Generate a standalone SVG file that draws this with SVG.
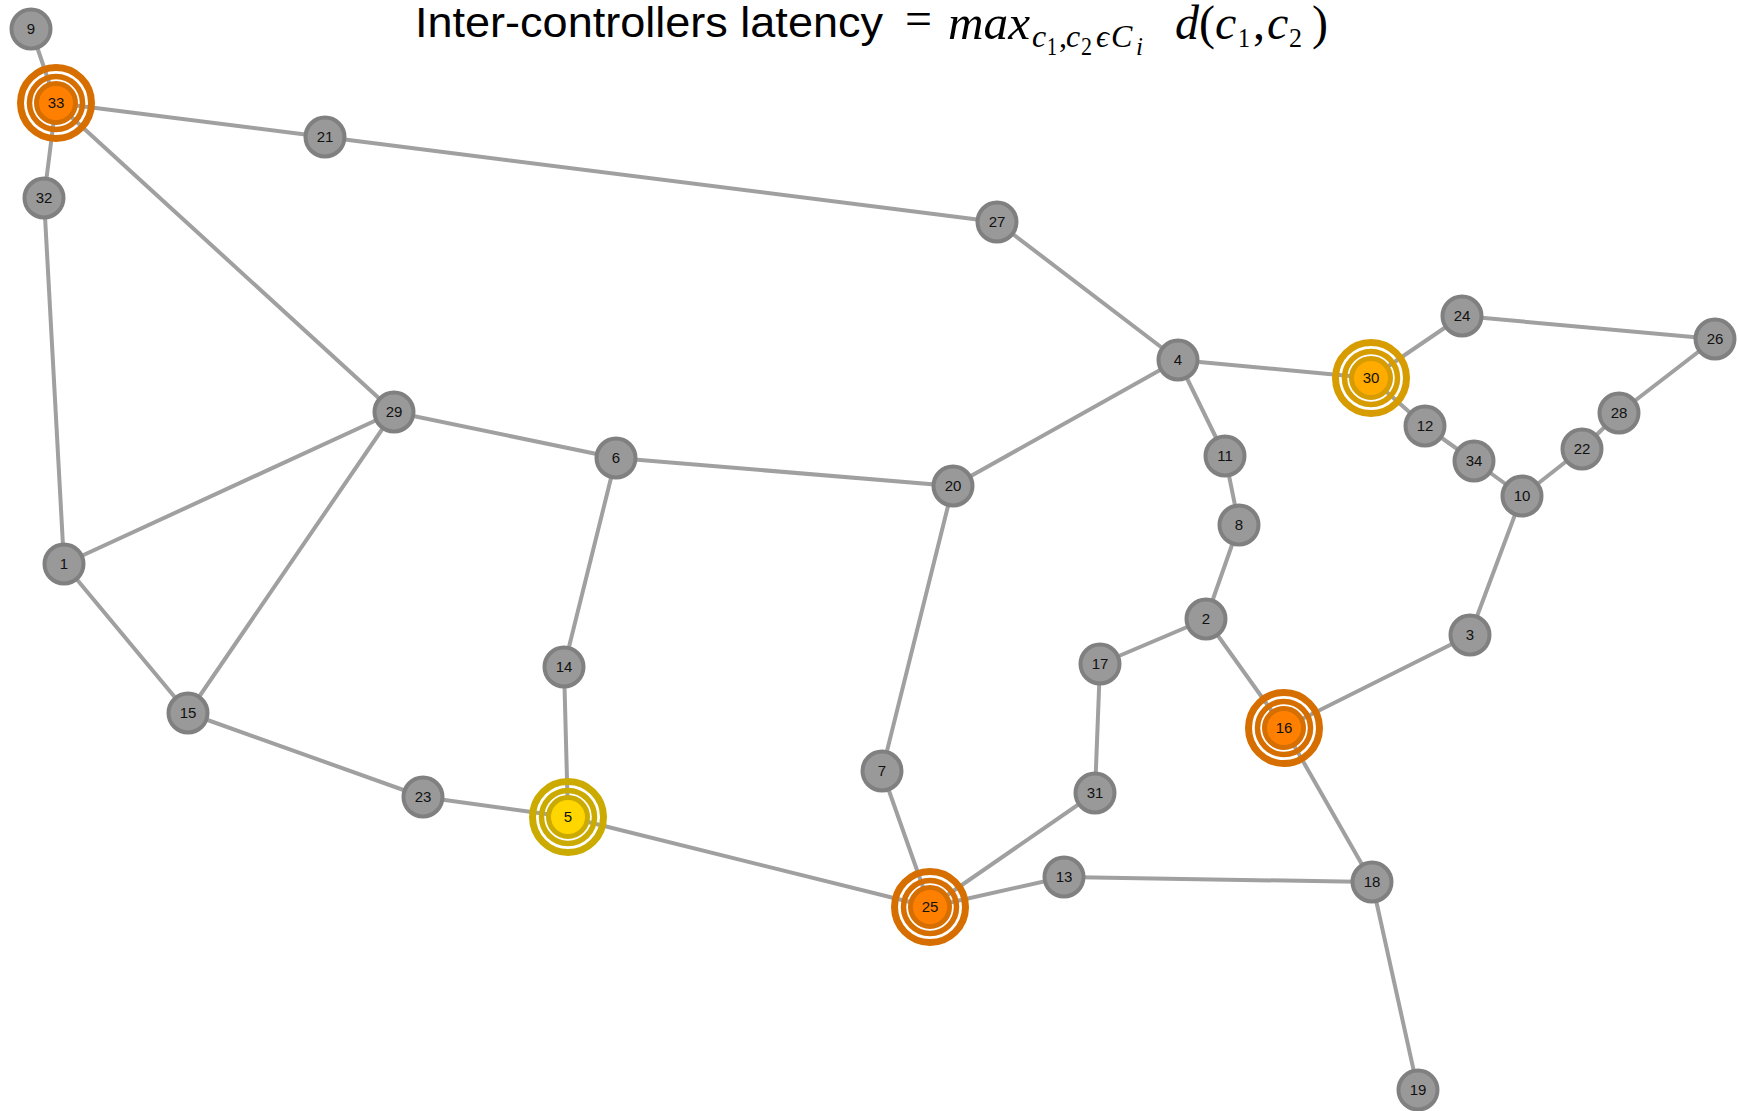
<svg xmlns="http://www.w3.org/2000/svg" width="1738" height="1111" viewBox="0 0 1738 1111">
  <style>
    .edge { stroke: #a0a0a0; stroke-width: 4; stroke-linecap: round; }
    .node circle.body { fill: #999999; stroke: #808080; stroke-width: 4; }
    .node text { font-family: "Liberation Sans", Arial, sans-serif; font-size: 15px; fill: #111; text-anchor: middle; }
    .ring { fill: none; }
    .orange .ring, .orange circle.body { stroke: #d66e00; }
    .orange circle.body { fill: #ff8000; stroke-width: 5; }
    .amber .ring, .amber circle.body { stroke: #d69c00; }
    .amber circle.body { fill: #ffab00; stroke-width: 5; }
    .gold .ring, .gold circle.body { stroke: #ccab00; }
    .gold circle.body { fill: #ffd600; stroke-width: 5; }
    .r1 { stroke-width: 7; }
    .r2 { stroke-width: 5.5; }
    .title { font-family: "Liberation Sans", Arial, sans-serif; font-size: 42px; fill: #000; }
    .m { font-family: "Liberation Serif", "DejaVu Serif", serif; font-style: italic; fill: #000; }
    .big { font-size: 48px; }
    .sub { font-size: 32px; }
    .sub2 { font-size: 25px; font-style: normal; }
    .sub2.it { font-style: italic; }
    .dsub { font-size: 28px; font-style: normal; }
    .up { font-style: normal; }
  </style>

  <!-- heading with the latency formula -->
  <g id="title">
    <text class="title" x="415" y="37" textLength="468" lengthAdjust="spacingAndGlyphs">Inter-controllers latency</text>
    <text class="m big up" x="905" y="35" textLength="27" lengthAdjust="spacingAndGlyphs">=</text>
    <text class="m big" x="948" y="39" textLength="82" lengthAdjust="spacingAndGlyphs">max</text>
    <text class="m sub" x="1032" y="47">c</text>
    <text class="m sub2" x="1047" y="55" textLength="10" lengthAdjust="spacingAndGlyphs">1</text>
    <text class="m sub up" x="1059" y="47">,</text>
    <text class="m sub" x="1066" y="47">c</text>
    <text class="m sub2" x="1081" y="55" textLength="11" lengthAdjust="spacingAndGlyphs">2</text>
    <text class="m sub" x="1096" y="47">ϵ</text>
    <text class="m sub" x="1111" y="47">C</text>
    <text class="m sub2 it" x="1136" y="55">i</text>
    <text class="m big" x="1175" y="39">d</text>
    <text class="m big up" x="1199" y="39">(</text>
    <text class="m big" x="1215" y="39">c</text>
    <text class="m dsub" x="1238" y="47" textLength="12" lengthAdjust="spacingAndGlyphs">1</text>
    <text class="m big up" x="1253" y="39">,</text>
    <text class="m big" x="1267" y="39">c</text>
    <text class="m dsub" x="1289" y="47" textLength="13" lengthAdjust="spacingAndGlyphs">2</text>
    <text class="m big up" x="1312" y="39">)</text>
  </g>

  <!-- links -->
  <g id="connectors">
    <line class="edge" x1="31" y1="29" x2="56" y2="103"/>
    <line class="edge" x1="56" y1="103" x2="325" y2="137"/>
    <line class="edge" x1="56" y1="103" x2="44" y2="198"/>
    <line class="edge" x1="56" y1="103" x2="394" y2="412"/>
    <line class="edge" x1="325" y1="137" x2="997" y2="222"/>
    <line class="edge" x1="997" y1="222" x2="1178" y2="360"/>
    <line class="edge" x1="44" y1="198" x2="64" y2="564"/>
    <line class="edge" x1="64" y1="564" x2="394" y2="412"/>
    <line class="edge" x1="64" y1="564" x2="188" y2="713"/>
    <line class="edge" x1="394" y1="412" x2="188" y2="713"/>
    <line class="edge" x1="394" y1="412" x2="616" y2="458"/>
    <line class="edge" x1="616" y1="458" x2="953" y2="486"/>
    <line class="edge" x1="616" y1="458" x2="564" y2="667"/>
    <line class="edge" x1="564" y1="667" x2="568" y2="817"/>
    <line class="edge" x1="188" y1="713" x2="423" y2="797"/>
    <line class="edge" x1="423" y1="797" x2="568" y2="817"/>
    <line class="edge" x1="568" y1="817" x2="930" y2="907"/>
    <line class="edge" x1="953" y1="486" x2="882" y2="771"/>
    <line class="edge" x1="882" y1="771" x2="930" y2="907"/>
    <line class="edge" x1="953" y1="486" x2="1178" y2="360"/>
    <line class="edge" x1="1178" y1="360" x2="1371" y2="378"/>
    <line class="edge" x1="1178" y1="360" x2="1225" y2="456"/>
    <line class="edge" x1="1225" y1="456" x2="1239" y2="525"/>
    <line class="edge" x1="1239" y1="525" x2="1206" y2="619"/>
    <line class="edge" x1="1206" y1="619" x2="1100" y2="664"/>
    <line class="edge" x1="1206" y1="619" x2="1284" y2="728"/>
    <line class="edge" x1="1100" y1="664" x2="1095" y2="793"/>
    <line class="edge" x1="1095" y1="793" x2="930" y2="907"/>
    <line class="edge" x1="930" y1="907" x2="1064" y2="877"/>
    <line class="edge" x1="1064" y1="877" x2="1372" y2="882"/>
    <line class="edge" x1="1284" y1="728" x2="1372" y2="882"/>
    <line class="edge" x1="1372" y1="882" x2="1418" y2="1090"/>
    <line class="edge" x1="1284" y1="728" x2="1470" y2="635"/>
    <line class="edge" x1="1470" y1="635" x2="1522" y2="496"/>
    <line class="edge" x1="1522" y1="496" x2="1474" y2="461"/>
    <line class="edge" x1="1474" y1="461" x2="1425" y2="426"/>
    <line class="edge" x1="1425" y1="426" x2="1371" y2="378"/>
    <line class="edge" x1="1371" y1="378" x2="1462" y2="316"/>
    <line class="edge" x1="1462" y1="316" x2="1715" y2="339"/>
    <line class="edge" x1="1715" y1="339" x2="1619" y2="413"/>
    <line class="edge" x1="1619" y1="413" x2="1582" y2="449"/>
    <line class="edge" x1="1582" y1="449" x2="1522" y2="496"/>
  </g>

  <!-- plain switches -->
  <g id="n9" class="node" transform="translate(31,29)"><circle class="body" r="19.5"/><text dy="5">9</text></g>
  <g id="n21" class="node" transform="translate(325,137)"><circle class="body" r="19.5"/><text dy="5">21</text></g>
  <g id="n32" class="node" transform="translate(44,198)"><circle class="body" r="19.5"/><text dy="5">32</text></g>
  <g id="n27" class="node" transform="translate(997,222)"><circle class="body" r="19.5"/><text dy="5">27</text></g>
  <g id="n24" class="node" transform="translate(1462,316)"><circle class="body" r="19.5"/><text dy="5">24</text></g>
  <g id="n26" class="node" transform="translate(1715,339)"><circle class="body" r="19.5"/><text dy="5">26</text></g>
  <g id="n4" class="node" transform="translate(1178,360)"><circle class="body" r="19.5"/><text dy="5">4</text></g>
  <g id="n28" class="node" transform="translate(1619,413)"><circle class="body" r="19.5"/><text dy="5">28</text></g>
  <g id="n29" class="node" transform="translate(394,412)"><circle class="body" r="19.5"/><text dy="5">29</text></g>
  <g id="n12" class="node" transform="translate(1425,426)"><circle class="body" r="19.5"/><text dy="5">12</text></g>
  <g id="n22" class="node" transform="translate(1582,449)"><circle class="body" r="19.5"/><text dy="5">22</text></g>
  <g id="n6" class="node" transform="translate(616,458)"><circle class="body" r="19.5"/><text dy="5">6</text></g>
  <g id="n11" class="node" transform="translate(1225,456)"><circle class="body" r="19.5"/><text dy="5">11</text></g>
  <g id="n34" class="node" transform="translate(1474,461)"><circle class="body" r="19.5"/><text dy="5">34</text></g>
  <g id="n20" class="node" transform="translate(953,486)"><circle class="body" r="19.5"/><text dy="5">20</text></g>
  <g id="n10" class="node" transform="translate(1522,496)"><circle class="body" r="19.5"/><text dy="5">10</text></g>
  <g id="n8" class="node" transform="translate(1239,525)"><circle class="body" r="19.5"/><text dy="5">8</text></g>
  <g id="n1" class="node" transform="translate(64,564)"><circle class="body" r="19.5"/><text dy="5">1</text></g>
  <g id="n2" class="node" transform="translate(1206,619)"><circle class="body" r="19.5"/><text dy="5">2</text></g>
  <g id="n3" class="node" transform="translate(1470,635)"><circle class="body" r="19.5"/><text dy="5">3</text></g>
  <g id="n17" class="node" transform="translate(1100,664)"><circle class="body" r="19.5"/><text dy="5">17</text></g>
  <g id="n14" class="node" transform="translate(564,667)"><circle class="body" r="19.5"/><text dy="5">14</text></g>
  <g id="n15" class="node" transform="translate(188,713)"><circle class="body" r="19.5"/><text dy="5">15</text></g>
  <g id="n7" class="node" transform="translate(882,771)"><circle class="body" r="19.5"/><text dy="5">7</text></g>
  <g id="n31" class="node" transform="translate(1095,793)"><circle class="body" r="19.5"/><text dy="5">31</text></g>
  <g id="n23" class="node" transform="translate(423,797)"><circle class="body" r="19.5"/><text dy="5">23</text></g>
  <g id="n13" class="node" transform="translate(1064,877)"><circle class="body" r="19.5"/><text dy="5">13</text></g>
  <g id="n18" class="node" transform="translate(1372,882)"><circle class="body" r="19.5"/><text dy="5">18</text></g>
  <g id="n19" class="node" transform="translate(1418,1090)"><circle class="body" r="19.5"/><text dy="5">19</text></g>

  <!-- controllers, ringed -->
  <g id="n33" class="node orange" transform="translate(56,103)"><circle class="ring r1" r="35.5"/><circle class="ring r2" r="26.5"/><circle class="body" r="19.5"/><text dy="5">33</text></g>
  <g id="n25" class="node orange" transform="translate(930,907)"><circle class="ring r1" r="35.5"/><circle class="ring r2" r="26.5"/><circle class="body" r="19.5"/><text dy="5">25</text></g>
  <g id="n16" class="node orange" transform="translate(1284,728)"><circle class="ring r1" r="35.5"/><circle class="ring r2" r="26.5"/><circle class="body" r="19.5"/><text dy="5">16</text></g>
  <g id="n30" class="node amber" transform="translate(1371,378)"><circle class="ring r1" r="35.5"/><circle class="ring r2" r="26.5"/><circle class="body" r="19.5"/><text dy="5">30</text></g>
  <g id="n5" class="node gold" transform="translate(568,817)"><circle class="ring r1" r="35.5"/><circle class="ring r2" r="26.5"/><circle class="body" r="19.5"/><text dy="5">5</text></g>
</svg>
